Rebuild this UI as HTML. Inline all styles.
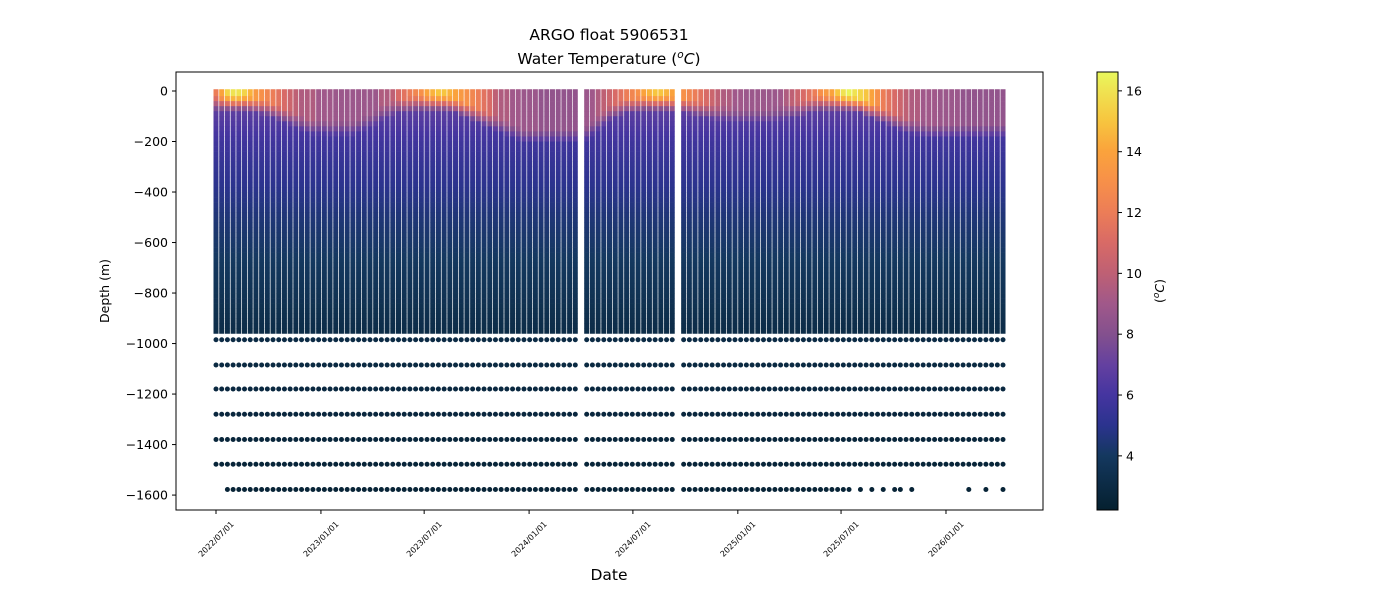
<!DOCTYPE html>
<html><head><meta charset="utf-8"><style>
body{margin:0;background:#fff;}
svg{display:block;font-family:"DejaVu Sans","Liberation Sans",sans-serif;}
</style></head><body>
<svg id="chart" width="1400" height="600" viewBox="0 0 1400 600">
<defs>
<linearGradient id="cmap" x1="0" y1="1" x2="0" y2="0">
<stop offset="0" stop-color="#05202f"/><stop offset="0.124" stop-color="#14385f"/><stop offset="0.193" stop-color="#2b338e"/>
<stop offset="0.263" stop-color="#4535a0"/><stop offset="0.33" stop-color="#6340a0"/><stop offset="0.40" stop-color="#83508e"/>
<stop offset="0.47" stop-color="#a0588a"/><stop offset="0.54" stop-color="#be6074"/><stop offset="0.61" stop-color="#d86a66"/>
<stop offset="0.68" stop-color="#ec7d57"/><stop offset="0.75" stop-color="#f79049"/><stop offset="0.82" stop-color="#faa33c"/>
<stop offset="0.89" stop-color="#f7c63f"/><stop offset="0.96" stop-color="#efe452"/><stop offset="1" stop-color="#e8f85c"/></linearGradient>
</defs>
<text x="609" y="40" text-anchor="middle" font-size="15.5">ARGO float 5906531</text>
<text x="609" y="64" text-anchor="middle" font-size="15.5">Water Temperature (<tspan font-style="italic" font-size="10.5" dy="-6">o</tspan><tspan font-style="italic" dy="6">C</tspan>)</text>
<g id="plot"></g>
<rect x="176" y="72" width="867" height="438" fill="none" stroke="#000" stroke-width="1"/>
<g id="yaxis"></g>
<g id="xaxis"></g>
<text x="0" y="0" transform="translate(109,291) rotate(-90)" text-anchor="middle" font-size="12.5">Depth (m)</text>
<text x="609" y="580" text-anchor="middle" font-size="15.5">Date</text>
<rect x="1097" y="72" width="21" height="438" fill="url(#cmap)" stroke="#000" stroke-width="1"/>
<g id="cbaxis"></g>
<text transform="translate(1164,291) rotate(-90)" text-anchor="middle" font-size="12.5">(<tspan font-style="italic" font-size="9" dy="-5">o</tspan><tspan font-style="italic" dy="5">C</tspan>)</text>
</svg>
<script>
// ---- data ----
const profileDays = [0,10,20,30,40,50,60,70,80,90,100,110,120,130,140,150,160,170,180,190,200,210,220,230,240,250,260,270,280,290,300,310,320,330,340,350,360,370,380,390,400,410,420,430,440,450,460,470,480,490,500,510,520,530,540,550,560,570,580,590,600,610,620,630,
650,660,670,680,690,700,710,720,730,740,750,760,770,780,790,800,
820,830,840,850,860,870,880,890,900,910,920,930,940,950,960,970,980,990,1000,1010,1020,1030,1040,1050,1060,1070,1080,1090,1100,1110,1120,1130,1140,1150,1160,1170,1180,1190,1200,1210,1220,1230,1240,1250,1260,1270,1280,1290,1300,1310,1320,1330,1340,1350,1360,1370,1380];
const surfaceTemp = [12,14,15.5,16,16,15.5,14.5,
13.5,13,12.5,12,11.5,11,10.5,10,9.5,9.5,9.5,9,9,9,8.8,8.8,8.8,8.8,8.8,8.8,8.8,8.8,9.5,9.5,10,11,11.5,12,12.5,13,14,14.5,15,15,14.5,14,13.5,13,12.5,12,11.5,11,10,9.5,9.5,9,9,8.8,8.8,8.8,8.5,8.5,8.5,8.5,8.5,8.5,8.5,
8.8,9,9.5,10,10.5,11,11.5,12,12.5,13,14,14.5,15,15,14.5,14,
13,12.5,12,11.5,11,10.5,10,9.5,9.5,9,9,8.8,8.8,8.8,8.8,8.8,8.8,9,9.5,10,10.5,11,11.5,12,13,13.5,14,15,16,16.5,16,15.5,15,14,13,12,11.5,11,10.5,10,9.5,9.5,9,9,9,8.8,8.8,8.8,8.8,8.5,8.5,8.5,8.5,8.5,8.5,8.5,8.5];
const mixedDepth = [20,20,20,20,20,20,25,
30,35,40,50,60,70,80,90,100,110,115,115,115,120,120,120,120,120,110,100,90,80,60,50,40,30,30,25,20,20,20,20,20,20,25,30,40,50,60,70,80,90,100,110,120,130,140,150,150,150,150,150,150,150,150,150,150,
140,120,100,80,60,50,40,30,30,25,20,20,20,20,20,25,
30,35,40,45,50,55,60,60,65,65,70,70,70,70,70,70,65,60,55,50,45,40,30,25,20,20,20,20,20,20,25,30,40,50,60,70,80,90,100,110,115,120,125,130,130,130,130,130,130,130,130,130,130,130,130,130,130];
const refDepths = [0,100,200,300,400,500,600,800,1000,1600];
const refTemps  = [7.5,6.6,5.8,5.3,4.9,4.5,4.2,3.6,3.0,2.5];
const deepDepths = [985,1085,1180,1280,1380,1478,1578];
const deepMissingDays = [0,10,1120,1140,1160,1180,1210,1230,1240,1250,1260,1270,1280,1290,1300,1310,1330,1340,1360,1370];
const yTicks = [0,-200,-400,-600,-800,-1000,-1200,-1400,-1600];
const xTickLabels = ["2022/07/01","2023/01/01","2023/07/01","2024/01/01","2024/07/01","2025/01/01","2025/07/01","2026/01/01"];
const xTickDays = [0,184,365,549,731,915,1096,1280];
const cbTicks = [4,6,8,10,12,14,16];

// ---- scales ----
const x = d => 216 + d*0.5703;
const y = m => 91 + 0.25255*m;
const tMin = 2.22, tMax = 16.62;
const stops = [[0,"05202f"],[0.124,"14385f"],[0.193,"2b338e"],[0.263,"4535a0"],[0.33,"6340a0"],[0.40,"83508e"],[0.47,"a0588a"],[0.54,"be6074"],[0.61,"d86a66"],[0.68,"ec7d57"],[0.75,"f79049"],[0.82,"faa33c"],[0.89,"f7c63f"],[0.96,"efe452"],[1,"e8f85c"]]
  .map(s=>[s[0],[0,2,4].map(k=>parseInt(s[1].substr(k,2),16))]);
function color(t){
  let f=(t-tMin)/(tMax-tMin); if(!(f>=0)) f=0; f=Math.min(1,f);
  for(let i=1;i<stops.length;i++){ if(f<=stops[i][0]){const a=stops[i-1],b=stops[i],k=(f-a[0])/(b[0]-a[0]);
    const c=a[1].map((v,j)=>Math.round(v+(b[1][j]-v)*k)); return `rgb(${c[0]},${c[1]},${c[2]})`;}}
  return 'rgb(232,248,92)';
}
function ref(z){ for(let i=1;i<refDepths.length;i++){ if(z<=refDepths[i]){const k=(z-refDepths[i-1])/(refDepths[i]-refDepths[i-1]); return refTemps[i-1]+(refTemps[i]-refTemps[i-1])*k;}} return refTemps[refTemps.length-1]; }
function pick(arr,i){ return arr[Math.min(i,arr.length-1)]; }
function tempAt(i,z){
  const s=pick(surfaceTemp,i), m=pick(mixedDepth,i), r=ref(z);
  if(z<=m) return Math.max(s, r);
  const k=Math.min(1,(z-m)/60);
  return Math.max(s,r)*(1-k)+Math.min(r,s)*k;
}
const NS='http://www.w3.org/2000/svg';
function el(tag,attrs,parent){const e=document.createElementNS(NS,tag);for(const k in attrs)e.setAttribute(k,attrs[k]);parent.appendChild(e);return e;}

// ---- profiles ----
const plot=document.getElementById('plot');
const bin=20, w=5.0;
profileDays.forEach((d,i)=>{
  const g=el('g',{},plot);
  
  
  for(let z=0; z<960; z+=bin){
    const y0 = z===0 ? y(-7) : y(z);
    const r=el('rect',{x:(x(d)-w/2).toFixed(2),y:y0.toFixed(2),width:w,height:(y(z+bin)-y0+0.3).toFixed(2),fill:color(tempAt(i,z+bin/2))},g);
    
    
  }
  deepDepths.forEach((dz,j)=>{
    if(j===deepDepths.length-1 && deepMissingDays.includes(d)) return;
    const c=el('circle',{cx:x(d).toFixed(2),cy:y(dz).toFixed(2),r:2.5,fill:color(ref(dz))},g);
    
    
  });
});

// ---- axes ----
const ya=document.getElementById('yaxis');
yTicks.forEach(v=>{
  const yy=y(-v);
  const l=el('line',{x1:172,x2:176,y1:yy,y2:yy,stroke:'#000'},ya);
  
  
  const t=el('text',{x:168,y:yy+4.5,'text-anchor':'end','font-size':12.5},ya);
  
  
  t.textContent=v===0?'0':'\u2212'+Math.abs(v);
});
const xa=document.getElementById('xaxis');
xTickDays.forEach((d,i)=>{
  const xx=x(d);
  const l=el('line',{x1:xx,x2:xx,y1:510,y2:514,stroke:'#000'},xa);
  
  
  const t=el('text',{transform:`translate(${xx+2},${541}) rotate(-45)`,'text-anchor':'middle','font-size':8},xa);
  
  
  t.textContent=xTickLabels[i];
});
const cb=document.getElementById('cbaxis');
cbTicks.forEach(v=>{
  const yy=510-(v-tMin)/(tMax-tMin)*438;
  const l=el('line',{x1:1118,x2:1122,y1:yy,y2:yy,stroke:'#000'},cb);
  
  
  const t=el('text',{x:1126,y:yy+4.5,'font-size':12.5},cb);
  
  
  t.textContent=v;
});
</script>
</body></html>
